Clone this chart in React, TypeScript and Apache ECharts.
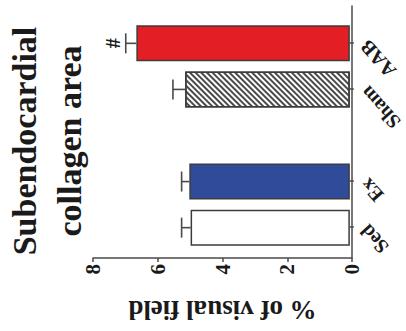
import React, { useEffect, useRef } from "react";
import * as echarts from "echarts";

// ---- data ----
const categories = ["Sed", "Ex", "", "Sham", "AAB"];
const means: (number | null)[] = [4.96, 5.0, null, 5.13, 6.65];
const errors: (number | null)[] = [0.28, 0.24, null, 0.38, 0.33];
const marks = ["", "", "", "", "#"];
const valueMin = 0;
const valueMax = 8;
const valueInterval = 2;
const titleLines = ["Subendocardial", "collagen area"];
const valueAxisName = "% of visual field";

// ---- styles ----
const FONT = "'Liberation Serif', 'Times New Roman', serif";
const AXIS_COLOR = "#4a4a4a";
const TEXT_COLOR = "#1a1a1a";
const BORDER = "#3c3c3c";
const hatch = {
  symbol: "rect",
  symbolSize: 1,
  dashArrayX: [1, 0],
  dashArrayY: [1.1, 1.9],
  rotation: -Math.PI / 4,
  color: "#4a4a4a",
  backgroundColor: "#ffffff",
};
const barStyles: any[] = [
  { color: "#ffffff" },
  { color: "#2f4b9a" },
  {},
  { color: "#ffffff", decal: hatch },
  { color: "#e31e25" },
];

export default function App() {
  const ref = useRef<HTMLDivElement>(null);

  useEffect(() => {
    if (!ref.current) return;
    const chart = echarts.init(ref.current, undefined, {
      renderer: "svg",
      width: 331,
      height: 406,
    });

    const barData = categories.map((c, i) =>
      means[i] == null
        ? "-"
        : { value: means[i], itemStyle: { ...barStyles[i], borderColor: BORDER, borderWidth: 1.5 } }
    );
    const errData: any[] = [];
    categories.forEach((c, i) => {
      if (means[i] != null) errData.push([i, means[i], errors[i], i]);
    });

    const option: any = {
      animation: false,
      backgroundColor: "#ffffff",
      graphic: [
        {
          type: "text",
          x: 190,
          y: 2,
          style: {
            text: titleLines.join("\n"),
            align: "center",
            verticalAlign: "top",
            fontSize: 34,
            lineHeight: 45,
            fontWeight: "bold",
            fontFamily: FONT,
            fill: TEXT_COLOR,
          },
        },
      ],
      grid: [
        { left: 66.7, right: 6, top: 93, bottom: 54 },
        { left: 80.3, right: 20.3, top: 93, bottom: 54 },
      ],
      xAxis: [
        {
          gridIndex: 0,
          type: "value",
          min: 0,
          max: 1,
          axisLine: { show: true, lineStyle: { color: AXIS_COLOR, width: 1.5 } },
          axisTick: { show: false },
          axisLabel: { show: false },
          splitLine: { show: false },
        },
        {
          gridIndex: 1,
          type: "category",
          data: categories,
          axisLine: { show: false },
          axisTick: {
            show: true,
            alignWithLabel: true,
            length: 4,
            interval: (index: number, value: string) => value !== "",
            lineStyle: { color: AXIS_COLOR, width: 1.5 },
          },
          axisLabel: {
            interval: 0,
            rotate: 42,
            margin: 14,
            fontSize: 20,
            fontWeight: "bold",
            fontFamily: FONT,
            color: TEXT_COLOR,
          },
          splitLine: { show: false },
        },
      ],
      yAxis: [
        {
          gridIndex: 0,
          type: "value",
          min: valueMin,
          max: valueMax,
          interval: valueInterval,
          name: valueAxisName,
          nameLocation: "middle",
          nameRotate: 90,
          nameGap: 38,
          nameTextStyle: {
            fontSize: 27,
            fontWeight: "bold",
            fontFamily: FONT,
            color: TEXT_COLOR,
          },
          axisLine: { show: true, lineStyle: { color: AXIS_COLOR, width: 1.5 } },
          axisTick: { show: true, length: 4, lineStyle: { color: AXIS_COLOR, width: 1.5 } },
          axisLabel: {
            margin: 6,
            fontSize: 21,
            fontWeight: "bold",
            fontFamily: FONT,
            color: TEXT_COLOR,
          },
          splitLine: { show: false },
        },
        {
          gridIndex: 1,
          type: "value",
          min: valueMin,
          max: valueMax,
          interval: valueInterval,
          show: false,
        },
      ],
      series: [
        {
          type: "bar",
          xAxisIndex: 1,
          yAxisIndex: 1,
          data: barData,
          barWidth: 36,
        },
        {
          type: "custom",
          xAxisIndex: 1,
          yAxisIndex: 1,
          data: errData,
          encode: { x: 0, y: 1 },
          z: 3,
          renderItem: (params: any, api: any) => {
            const idx = api.value(0);
            const m = api.value(1);
            const e = api.value(2);
            const k = api.value(3);
            const base = api.coord([idx, m]);
            const top = api.coord([idx, m + e]);
            const cap = 10;
            const st = { stroke: AXIS_COLOR, lineWidth: 1.6 };
            const children: any[] = [
              { type: "line", shape: { x1: base[0], y1: base[1], x2: top[0], y2: top[1] }, style: st },
              { type: "line", shape: { x1: top[0] - cap, y1: top[1], x2: top[0] + cap, y2: top[1] }, style: st },
            ];
            const mk = marks[k];
            if (mk) {
              children.push({
                type: "text",
                x: top[0],
                y: top[1] - 3,
                style: {
                  text: mk,
                  align: "center",
                  verticalAlign: "bottom",
                  fontSize: 20,
                  fontWeight: "bold",
                  fontFamily: FONT,
                  fill: TEXT_COLOR,
                },
              });
            }
            return { type: "group", children };
          },
        },
      ],
    };
    chart.setOption(option);
    return () => chart.dispose();
  }, []);

  return (
    <div
      style={{
        position: "fixed",
        left: 0,
        top: 0,
        width: 406,
        height: 331,
        overflow: "hidden",
        background: "#ffffff",
      }}
    >
      <div
        ref={ref}
        style={{
          position: "absolute",
          left: 0,
          top: 0,
          width: 331,
          height: 406,
          transformOrigin: "0 0",
          transform: "translate(0px, 331px) rotate(-90deg)",
        }}
      />
    </div>
  );
}
